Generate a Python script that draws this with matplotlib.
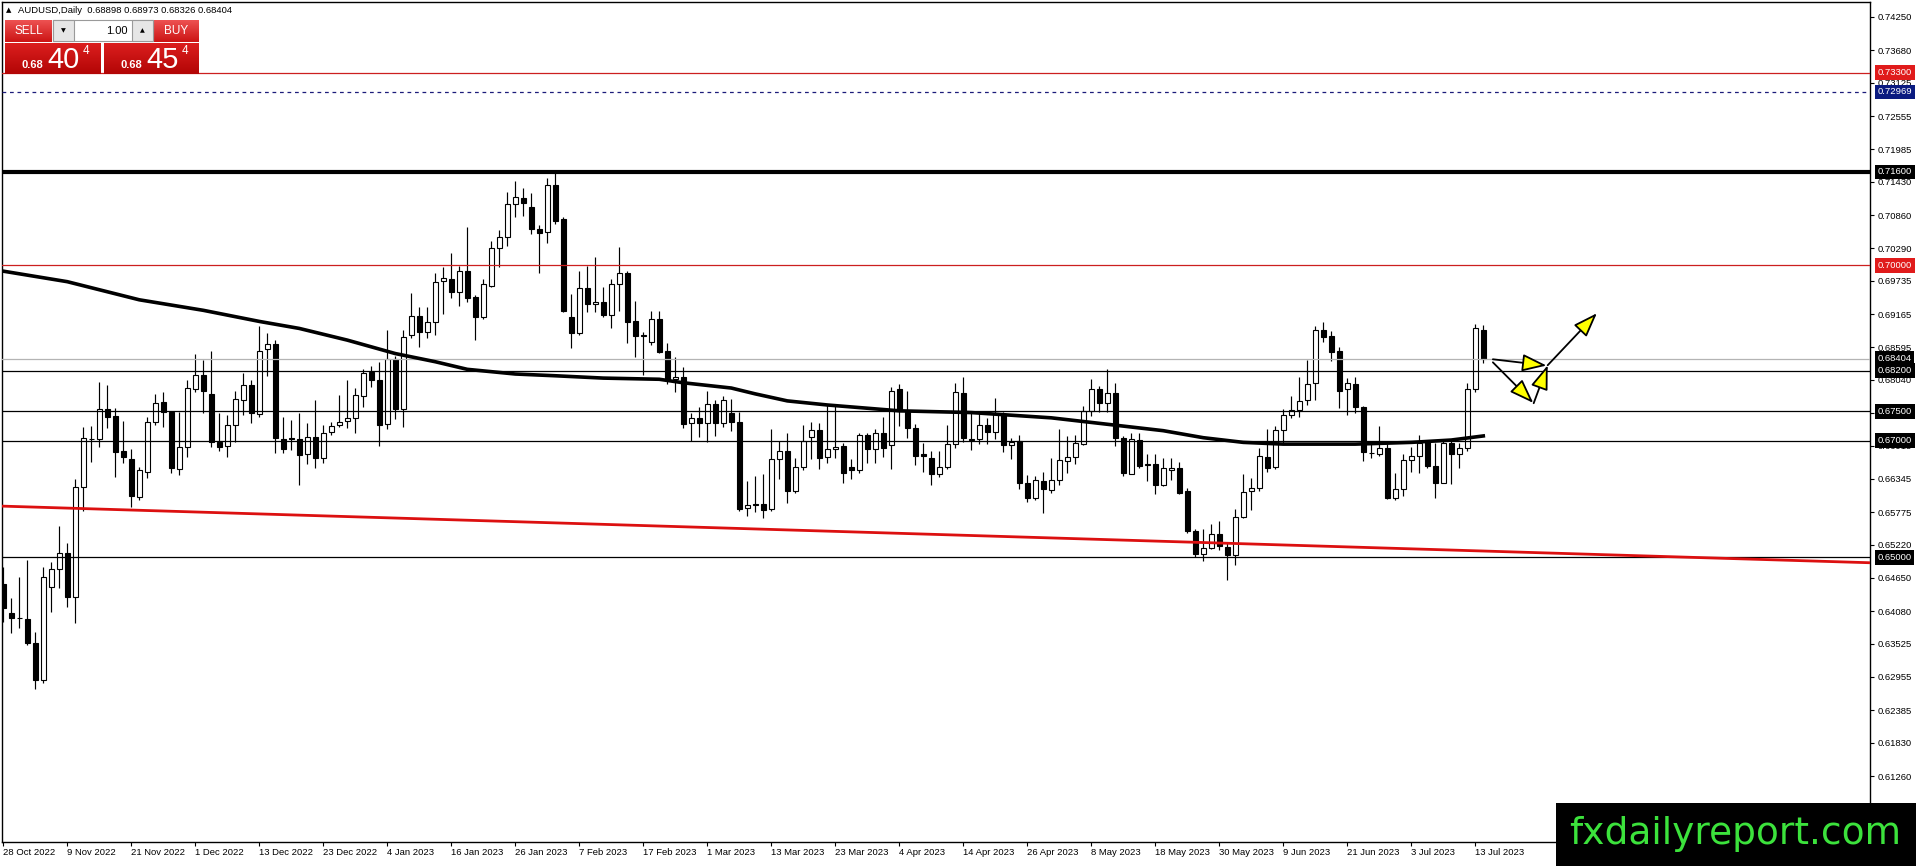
import matplotlib
matplotlib.use('Agg')
import matplotlib.pyplot as plt
import matplotlib.transforms as mtransforms
from matplotlib.patches import Rectangle, FancyArrowPatch
import numpy as np

# ---------------- data ----------------
opens = [0.64546, 0.64044, 0.63970, 0.63942, 0.63542, 0.62903, 0.64489, 0.64797, 0.65071, 0.64318,
         0.66201, 0.67022, 0.67022, 0.67536, 0.67422, 0.66823, 0.66680, 0.66041, 0.66469, 0.67325,
         0.67661, 0.67496, 0.66509, 0.66885, 0.67878, 0.68118, 0.67793, 0.66982, 0.66908, 0.67262,
         0.67696, 0.67947, 0.67456, 0.68563, 0.68654, 0.67022, 0.67039, 0.67022, 0.66771, 0.67068,
         0.66697, 0.67148, 0.67262, 0.67336, 0.67382, 0.67764, 0.68175, 0.68038, 0.67279, 0.68391,
         0.67536, 0.68808, 0.69133, 0.68854, 0.69036, 0.69738, 0.69766, 0.69550, 0.69903, 0.69453,
         0.69110, 0.69647, 0.70291, 0.70479, 0.71050, 0.71147, 0.70993, 0.70616, 0.70576, 0.71375,
         0.70788, 0.69110, 0.68836, 0.69607, 0.69338, 0.69372, 0.69156, 0.69675, 0.69863, 0.69047,
         0.68802, 0.68682, 0.69087, 0.68534, 0.68060, 0.68083, 0.67296, 0.67381, 0.67296, 0.67621,
         0.67307, 0.67473, 0.67313, 0.65847, 0.65909, 0.65915, 0.65824, 0.66685, 0.66822, 0.66143,
         0.66554, 0.67056, 0.67176, 0.66714, 0.66851, 0.66908, 0.66543, 0.66497, 0.67090, 0.66851,
         0.67125, 0.66925, 0.67880, 0.67491, 0.67223, 0.66771, 0.66708, 0.66423, 0.66554, 0.66937,
         0.67823, 0.67034, 0.67034, 0.67268, 0.67154, 0.67451, 0.66931, 0.66994, 0.66280, 0.66023,
         0.66308, 0.66154, 0.66326, 0.66646, 0.66726, 0.66948, 0.67508, 0.67891, 0.67640, 0.67823,
         0.67051, 0.66434, 0.67011, 0.66577, 0.66606, 0.66240, 0.66491, 0.66537, 0.66137, 0.65451,
         0.65063, 0.65166, 0.65394, 0.65177, 0.65034, 0.65691, 0.66137, 0.66189, 0.66720, 0.66554,
         0.67183, 0.67446, 0.67526, 0.67697, 0.67994, 0.68891, 0.68794, 0.68537, 0.67880, 0.67977,
         0.67583, 0.66794, 0.66777, 0.66880, 0.66023, 0.66177, 0.66663, 0.66737, 0.66994, 0.66566,
         0.66280, 0.66954, 0.66777, 0.66880, 0.67880, 0.68898]
highs = [0.64843, 0.64301, 0.64672, 0.64957, 0.63731, 0.64843, 0.64929, 0.65539, 0.65242, 0.66338,
         0.67228, 0.67251, 0.68009, 0.67952, 0.67553, 0.67342, 0.66851, 0.66555, 0.67410, 0.67798,
         0.67838, 0.67510, 0.67496, 0.68038, 0.68483, 0.68380, 0.68540, 0.67467, 0.67439, 0.67855,
         0.68152, 0.68038, 0.68962, 0.68848, 0.68722, 0.67399, 0.67353, 0.67467, 0.67296, 0.67695,
         0.67262, 0.67325, 0.67781, 0.68038, 0.67895, 0.68220, 0.68277, 0.68352, 0.68893, 0.68449,
         0.68893, 0.69521, 0.69293, 0.69281, 0.69863, 0.69977, 0.70206, 0.69989, 0.70662, 0.69493,
         0.69761, 0.70422, 0.70605, 0.71250, 0.71449, 0.71318, 0.71233, 0.70691, 0.71489, 0.71603,
         0.70822, 0.69510, 0.69903, 0.69989, 0.70137, 0.69623, 0.69760, 0.70308, 0.69909, 0.69390,
         0.68859, 0.69224, 0.69224, 0.68665, 0.68437, 0.68254, 0.67467, 0.67581, 0.67855, 0.67695,
         0.67764, 0.67707, 0.67495, 0.66309, 0.66394, 0.66423, 0.67193, 0.66993, 0.67136, 0.66697,
         0.67267, 0.67313, 0.67296, 0.67610, 0.67610, 0.66965, 0.66680, 0.67136, 0.67136, 0.67193,
         0.67398, 0.67923, 0.67966, 0.67851, 0.67280, 0.66966, 0.66823, 0.66823, 0.67263, 0.67994,
         0.68097, 0.67480, 0.67508, 0.67394, 0.67737, 0.67491, 0.67051, 0.67091, 0.66417, 0.66394,
         0.66463, 0.66708, 0.67206, 0.67080, 0.67097, 0.67594, 0.68063, 0.67937, 0.68223, 0.67994,
         0.67080, 0.67126, 0.67126, 0.66766, 0.66766, 0.66708, 0.66708, 0.66640, 0.66183, 0.65491,
         0.65491, 0.65566, 0.65623, 0.65251, 0.65834, 0.66423, 0.66366, 0.66880, 0.67206, 0.67251,
         0.67548, 0.67766, 0.68097, 0.68383, 0.68966, 0.69023, 0.68880, 0.68594, 0.68080, 0.68097,
         0.67594, 0.66966, 0.67251, 0.66948, 0.66440, 0.66766, 0.66897, 0.67091, 0.67011, 0.66966,
         0.67023, 0.66994, 0.66966, 0.67994, 0.68994, 0.68973]
lows = [0.63902, 0.63702, 0.63788, 0.63502, 0.62744, 0.62858, 0.64073, 0.64472, 0.64158, 0.63885,
        0.65801, 0.66640, 0.66885, 0.67211, 0.66372, 0.66623, 0.65870, 0.65984, 0.66355, 0.67268,
        0.67228, 0.66440, 0.66412, 0.66726, 0.67838, 0.67467, 0.66885, 0.66828, 0.66714, 0.66982,
        0.67439, 0.67308, 0.67410, 0.68106, 0.66783, 0.66783, 0.66840, 0.66241, 0.66600, 0.66526,
        0.66623, 0.67096, 0.67228, 0.67211, 0.67125, 0.67570, 0.67924, 0.66908, 0.67193, 0.67365,
        0.67239, 0.68751, 0.68608, 0.68751, 0.68808, 0.69167, 0.69435, 0.69310, 0.69378, 0.68722,
        0.69076, 0.69624, 0.69966, 0.70331, 0.70822, 0.70845, 0.70537, 0.69863, 0.70388, 0.70708,
        0.69207, 0.68580, 0.68808, 0.69207, 0.69207, 0.69110, 0.68922, 0.69224, 0.68665, 0.68425,
        0.68123, 0.68636, 0.68494, 0.67969, 0.67838, 0.67210, 0.66993, 0.67056, 0.66976, 0.67079,
        0.67239, 0.67170, 0.65801, 0.65710, 0.65784, 0.65670, 0.65801, 0.66337, 0.65927, 0.66109,
        0.66497, 0.66680, 0.66520, 0.66623, 0.66708, 0.66269, 0.66349, 0.66451, 0.66623, 0.66623,
        0.66725, 0.66520, 0.67251, 0.67051, 0.66577, 0.66463, 0.66234, 0.66383, 0.66508, 0.66880,
        0.66977, 0.66840, 0.66937, 0.66937, 0.67023, 0.66806, 0.66680, 0.66177, 0.65949, 0.65983,
        0.65766, 0.66097, 0.66246, 0.66451, 0.66594, 0.66920, 0.67423, 0.67491, 0.67491, 0.66908,
        0.66394, 0.66434, 0.66537, 0.66308, 0.66080, 0.66223, 0.66320, 0.66080, 0.65423, 0.65011,
        0.64937, 0.65137, 0.65126, 0.64623, 0.64874, 0.65674, 0.65811, 0.66137, 0.66463, 0.66520,
        0.66954, 0.67394, 0.67411, 0.67606, 0.67697, 0.68680, 0.68366, 0.67566, 0.67440, 0.67468,
        0.66651, 0.66708, 0.66737, 0.65994, 0.65983, 0.66051, 0.66468, 0.66451, 0.66537, 0.66023,
        0.66269, 0.66263, 0.66537, 0.66823, 0.67840, 0.68326]
closes = [0.64130, 0.63959, 0.63965, 0.63531, 0.62903, 0.64660, 0.64797, 0.65071, 0.64318, 0.66201,
          0.67039, 0.67034, 0.67536, 0.67410, 0.66811, 0.66726, 0.66053, 0.66497, 0.67325, 0.67650,
          0.67496, 0.66526, 0.66885, 0.67895, 0.68118, 0.67855, 0.66982, 0.66885, 0.67262, 0.67707,
          0.67947, 0.67467, 0.68540, 0.68654, 0.67039, 0.66863, 0.67034, 0.66748, 0.67068, 0.66697,
          0.67136, 0.67256, 0.67325, 0.67382, 0.67775, 0.68152, 0.68038, 0.67268, 0.68391, 0.67536,
          0.68768, 0.69133, 0.68865, 0.69036, 0.69721, 0.69778, 0.69550, 0.69903, 0.69435, 0.69110,
          0.69675, 0.70291, 0.70479, 0.71050, 0.71164, 0.71061, 0.70616, 0.70559, 0.71375, 0.70765,
          0.69224, 0.68836, 0.69607, 0.69338, 0.69367, 0.69156, 0.69680, 0.69863, 0.69036, 0.68796,
          0.68791, 0.69087, 0.68522, 0.68054, 0.68094, 0.67279, 0.67393, 0.67296, 0.67621, 0.67307,
          0.67689, 0.67313, 0.65835, 0.65892, 0.65898, 0.65812, 0.66685, 0.66822, 0.66143, 0.66554,
          0.66999, 0.67176, 0.66708, 0.66851, 0.66885, 0.66451, 0.66497, 0.67090, 0.66851, 0.67125,
          0.66868, 0.67855, 0.67508, 0.67223, 0.66737, 0.66743, 0.66434, 0.66554, 0.66937, 0.67840,
          0.67051, 0.67006, 0.67268, 0.67154, 0.67451, 0.66931, 0.66983, 0.66280, 0.66023, 0.66326,
          0.66177, 0.66326, 0.66663, 0.66720, 0.66954, 0.67508, 0.67880, 0.67651, 0.67823, 0.67051,
          0.66451, 0.67034, 0.66566, 0.66606, 0.66240, 0.66537, 0.66526, 0.66109, 0.65451, 0.65051,
          0.65166, 0.65394, 0.65194, 0.65040, 0.65691, 0.66126, 0.66183, 0.66737, 0.66537, 0.67188,
          0.67446, 0.67526, 0.67680, 0.67977, 0.68891, 0.68766, 0.68520, 0.67851, 0.67983, 0.67583,
          0.66806, 0.66789, 0.66880, 0.66011, 0.66177, 0.66668, 0.66737, 0.66966, 0.66566, 0.66280,
          0.66954, 0.66777, 0.66880, 0.67880, 0.68920, 0.68404]

# moving average (read at anchor bars)
ma_idx = [0, 8, 17, 25, 32, 37, 43, 49, 54, 58, 64, 69, 75, 82, 85, 91, 94, 98, 103,
          112, 121, 131, 138, 145, 150, 155, 160, 169, 176, 181, 185]
ma_val = [0.6990, 0.6972, 0.6941, 0.6923, 0.6904, 0.6892, 0.6872, 0.6849, 0.6835, 0.6822,
          0.6814, 0.6811, 0.6807, 0.6805, 0.6799, 0.6790, 0.6780, 0.6768, 0.6761,
          0.6751, 0.6748, 0.6739, 0.6728, 0.6717, 0.6705, 0.6697, 0.6694, 0.6694, 0.6697,
          0.6701, 0.6708]

# red trend line anchors (bar index, price)
trend_x = [-0.4, 233.3]
trend_y = [0.6588, 0.6491]

# horizontal levels: (price, color, linewidth, linestyle, gray?)
level_prices = [0.73300, 0.72969, 0.71600, 0.70000, 0.68404, 0.68200, 0.67500, 0.67000, 0.65000]
level_colors = ['#cc1f1f', '#1c1c7a', 'black', '#cc1f1f', '#b4b4b4', 'black', 'black', 'black', 'black']
level_widths = [0.9, 0.9, 3.0, 0.9, 0.9, 0.9, 0.9, 0.9, 0.9]
level_styles = ['-', (0, (3, 3)), '-', '-', '-', '-', '-', '-', '-']
level_box_colors = ['#e01b1b', '#0a1a80', 'black', '#e01b1b', 'black', 'black', 'black', 'black', 'black']

price_ticks = [0.74250, 0.73680, 0.73125, 0.72555, 0.71985, 0.71430, 0.70860, 0.70290,
               0.69735, 0.69165, 0.68595, 0.68040, 0.67470, 0.66915, 0.66345, 0.65775,
               0.65220, 0.64650, 0.64080, 0.63525, 0.62955, 0.62385, 0.61830, 0.61260]

date_labels = ['28 Oct 2022', '9 Nov 2022', '21 Nov 2022', '1 Dec 2022', '13 Dec 2022',
               '23 Dec 2022', '4 Jan 2023', '16 Jan 2023', '26 Jan 2023', '7 Feb 2023',
               '17 Feb 2023', '1 Mar 2023', '13 Mar 2023', '23 Mar 2023', '4 Apr 2023',
               '14 Apr 2023', '26 Apr 2023', '8 May 2023', '18 May 2023', '30 May 2023',
               '9 Jun 2023', '21 Jun 2023', '3 Jul 2023', '13 Jul 2023']
date_step = 8

# projection arrows: (x0, y0, x1, y1) in bar index / price
arrows = [(186.2, 0.68392, 192.9, 0.68285),
          (186.2, 0.68340, 191.25, 0.67645),
          (191.3, 0.67640, 193.05, 0.68290),
          (193.05, 0.68290, 199.2, 0.69180)]

header = 'AUDUSD,Daily  0.68898 0.68973 0.68326 0.68404'

# ---------------- figure ----------------
W, H = 1916, 866
FONT = 'Liberation Sans'
plt.rcParams['font.family'] = [FONT, 'DejaVu Sans']
fig = plt.figure(figsize=(W / 100, H / 100), dpi=100)
fig.patch.set_facecolor('white')
ax = fig.add_axes([2 / W, 24 / H, 1868 / W, 840 / H])
ax.set_xlim(-0.1625, 233.34)
ax.set_ylim(0.601306, 0.745067)

o = np.array(opens); h = np.array(highs); l = np.array(lows); c = np.array(closes)
idx = np.arange(len(o))
up = c >= o
ax.vlines(idx, l, h, color='black', lw=0.85, zorder=3)
body_bot = np.minimum(o, c)
body_h = np.maximum(np.abs(c - o), 0.00003)
ax.bar(idx, body_h, width=0.58, bottom=body_bot,
       color=np.where(up, 'white', 'black'), edgecolor='black', linewidth=0.8, zorder=4)

for p, col, lw, ls in zip(level_prices, level_colors, level_widths, level_styles):
    ax.axhline(p, color=col, lw=lw, ls=ls, zorder=4.5)

ax.plot(ma_idx, ma_val, color='black', lw=2.6, zorder=5, solid_joinstyle='round')
ax.plot(trend_x, trend_y, color='#dc1010', lw=2.0, zorder=5)

for x0, y0, x1, y1 in arrows:
    arr = FancyArrowPatch((x0, y0), (x1, y1), arrowstyle='-|>,head_length=1.25,head_width=0.45',
                          mutation_scale=12, fc='#ffff00', ec='black', lw=1.3, zorder=6,
                          shrinkA=0, shrinkB=0)
    ax.add_patch(arr)

# axes styling
for s in ax.spines.values():
    s.set_color('black'); s.set_linewidth(1.0)
ax.yaxis.tick_right()
ax.set_yticks(price_ticks)
ax.set_yticklabels([f'{v:.5f}' for v in price_ticks])
ax.tick_params(axis='y', direction='out', length=3, width=0.8, pad=2.5, labelsize=6.8, colors='black')
ax.set_xticks([i * date_step for i in range(len(date_labels))])
ax.set_xticklabels(date_labels, ha='left')
ax.tick_params(axis='x', direction='out', length=3, width=0.8, pad=1.5, labelsize=6.8)

trans = mtransforms.blended_transform_factory(ax.transAxes, ax.transData)
for p, bc in zip(level_prices, level_box_colors):
    ax.text(1.0 + 7.5 / 1868, p, f'{p:.5f}', transform=trans, ha='left', va='center',
            fontsize=6.8, color='white', zorder=20, clip_on=False,
            bbox=dict(boxstyle='square,pad=0.3', fc=bc, ec='none'))

# ---------------- overlay (UI elements) ----------------
ov = fig.add_axes([0, 0, 1, 1], zorder=10)
ov.patch.set_alpha(0)
ov.axis('off')


def grad_rect(x0, y0, x1, y1, ctop, cbot):
    g = np.linspace(0, 1, 40)[:, None, None]
    img = (1 - g) * np.array(ctop)[None, None, :] + g * np.array(cbot)[None, None, :]
    ov.imshow(img, extent=(x0, x1, y1, y0), aspect='auto', interpolation='bilinear', zorder=1)


ov.text(8.5, 10.5, '\u25b2', fontsize=5, ha='center', va='center', family='DejaVu Sans')
ov.text(18, 10.5, header, fontsize=6.8, ha='left', va='center')

# one-click trading panel
grad_rect(5, 20, 52, 42, (0.93, 0.32, 0.32), (0.80, 0.08, 0.08))
grad_rect(154, 20, 199, 42, (0.93, 0.32, 0.32), (0.80, 0.08, 0.08))
grad_rect(5, 43, 101, 74, (0.86, 0.12, 0.12), (0.70, 0.02, 0.02))
grad_rect(104, 43, 199, 74, (0.86, 0.12, 0.12), (0.70, 0.02, 0.02))
ov.add_patch(Rectangle((53, 20), 100, 21, fc='white', ec='#9a9a9a', lw=0.8, zorder=2))
ov.add_patch(Rectangle((53, 20), 21, 21, fc='#e6e6e6', ec='#9a9a9a', lw=0.8, zorder=3))
ov.add_patch(Rectangle((132, 20), 21, 21, fc='#e6e6e6', ec='#9a9a9a', lw=0.8, zorder=3))
ov.text(63.5, 30.5, '\u25bc', fontsize=4.5, ha='center', va='center', family='DejaVu Sans', zorder=4)
ov.text(142.5, 30.5, '\u25b2', fontsize=4.5, ha='center', va='center', family='DejaVu Sans', zorder=4)
ov.text(128, 30.5, '1.00', fontsize=8, ha='right', va='center', zorder=4)
ov.text(28.5, 31.5, 'SELL', fontsize=8.5, color='white', ha='center', va='center', zorder=4)
ov.text(176.5, 31.5, 'BUY', fontsize=8.5, color='white', ha='center', va='center', zorder=4)
for bx, big in ((0, '40'), (99, '45')):
    ov.text(22 + bx, 67.5, '0.68', fontsize=8, color='white', fontweight='bold',
            ha='left', va='baseline', zorder=4)
    ov.text(47 + bx, 68, big, fontsize=21, color='white', ha='left', va='baseline', zorder=4)
    ov.text(83 + bx, 51, '4', fontsize=8.5, color='white', ha='left', va='center', zorder=4)

# logo
ov.add_patch(Rectangle((1556, 803), 360, 63, fc='black', ec='none', zorder=5))
ov.text(1735, 834, 'fxdailyreport.com', fontsize=27, color='#3ce23c', ha='center', va='center',
        family='DejaVu Sans', zorder=6)

ov.set_xlim(0, W)
ov.set_ylim(H, 0)

fig.savefig('out.png', dpi=100, facecolor='white')
